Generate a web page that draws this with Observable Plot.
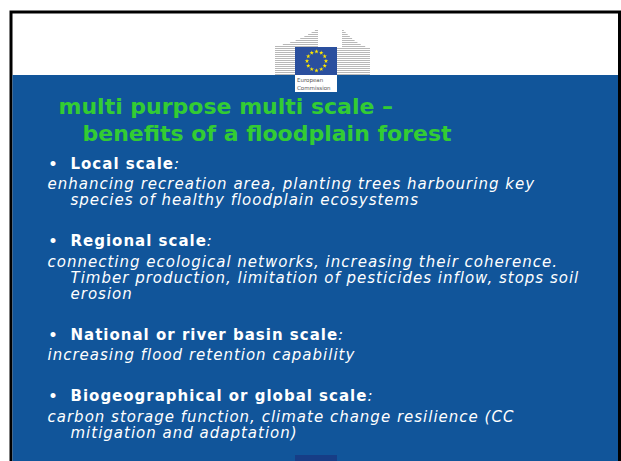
<!DOCTYPE html>
<html>
<head>
<meta charset="utf-8">
<script src="https://cdn.jsdelivr.net/npm/d3@7"></script>
<script src="https://cdn.jsdelivr.net/npm/@observablehq/plot@0.6"></script>
<style>
  html, body { margin: 0; padding: 0; background: #ffffff; }
  #chart { width: 621px; height: 461px; overflow: hidden; }
</style>
</head>
<body>
<div id="chart"></div>
<script>
// ---- content ----
const titleLines = ["multi purpose multi scale –", "benefits of a floodplain forest"];
const headings = ["Local scale", "Regional scale", "National or river basin scale", "Biogeographical or global scale"];
const descriptions = [
  ["enhancing recreation area, planting trees harbouring key", "species of healthy floodplain ecosystems"],
  ["connecting ecological networks, increasing their coherence.", "Timber production, limitation of pesticides inflow, stops soil", "erosion"],
  ["increasing flood retention capability"],
  ["carbon storage function, climate change resilience (CC", "mitigation and adaptation)"]
];
const logoLabel = ["European", "Commission"];

// ---- style / layout ----
const W = 621, H = 461;
const FONT = "DejaVu Sans, Verdana, sans-serif";
const BLUE = "#11559a";
const GREEN = "#33cc33";
const layout = {
  frame: {x1: 11, x2: 619.5, y1: 12, y2: 480},
  band: {x1: 12.5, x2: 618, y1: 75, y2: 480},
  titleX: [58, 82], titleBase0: 113.5, titleStep: 27,
  bulletX: 48, headX: 70, descX0: 47, descX: 70,
  sectionBase0: 168, headToDesc: 20.5, descStep: 16, sectionGap: 41,
  headSize: 15, descSize: 15, titleSize: 22, spacing: 1
};

// measure heading widths for the colon
const ctx = document.createElement("canvas").getContext("2d");
function textWidth(t, font) { ctx.font = font; return ctx.measureText(t).width + t.length * layout.spacing; }

// build rows
const titleRows = titleLines.map((t, i) => ({text: t, x: layout.titleX[i], y: layout.titleBase0 + i * layout.titleStep}));
const headRows = [], colonRows = [], bulletRows = [], descRows = [];
let y = layout.sectionBase0;
headings.forEach((h, s) => {
  headRows.push({text: h, x: layout.headX, y});
  bulletRows.push({text: "•", x: layout.bulletX, y});
  const w = textWidth(h, `bold ${layout.headSize}px ${FONT}`);
  colonRows.push({text: ":", x: layout.headX + w, y, bold: s === 0});
  let dy = y + layout.headToDesc;
  descriptions[s].forEach((d, j) => {
    descRows.push({text: d, x: j === 0 ? layout.descX0 : layout.descX, y: dy});
    if (j < descriptions[s].length - 1) dy += layout.descStep;
  });
  y = dy + layout.sectionGap;
});

// logo geometry (decoration only)
const logo = {sq: {x1: 295, x2: 337, y1: 47, y2: 75}, box: {x1: 295, x2: 337, y1: 75, y2: 92}, cx: 316, cy: 60.5, r: 9.5};
const stars = d3.range(12).map(i => ({x: logo.cx + logo.r * Math.cos(i * Math.PI / 6), y: logo.cy + logo.r * Math.sin(i * Math.PI / 6)}));
const leftWing = d3.range(74, 27, -2).map(yy => ({
  y: yy, x1: yy >= 45 ? 275 : 275 + 43 * Math.pow((45 - yy) / 17, 0.6), x2: yy >= 47 ? 295 : 318
})).filter(d => d.x2 - d.x1 > 0.5);
const rightWing = d3.range(74, 27, -2).map(yy => ({
  y: yy, x1: yy >= 47 ? 337 : 342, x2: yy >= 47 ? 370 : 370 - 28 * Math.pow((47 - yy) / 19, 0.6)
})).filter(d => d.x2 - d.x1 > 0.5);

const textOpts = {x: "x", y: "y", text: "text", textAnchor: "start", lineAnchor: "bottom"};

const chart = Plot.plot({
  width: W, height: H, margin: 0,
  x: {type: "identity"}, y: {type: "identity"},
  style: {background: "#ffffff", fontFamily: FONT},
  marks: [
    Plot.rect([layout.frame], {x1: "x1", x2: "x2", y1: "y1", y2: "y2", fill: "#ffffff", stroke: "#000000", strokeWidth: 3}),
    Plot.rect([layout.band], {x1: "x1", x2: "x2", y1: "y1", y2: "y2", fill: BLUE}),
    // logo
    Plot.ruleY(leftWing, {x1: "x1", x2: "x2", y: "y", stroke: "#b8b8b8", strokeWidth: 1}),
    Plot.ruleY(rightWing, {x1: "x1", x2: "x2", y: "y", stroke: "#b8b8b8", strokeWidth: 1}),
    Plot.rect([logo.sq], {x1: "x1", x2: "x2", y1: "y1", y2: "y2", fill: "#2a4f9e"}),
    Plot.rect([logo.box], {x1: "x1", x2: "x2", y1: "y1", y2: "y2", fill: "#ffffff"}),
    Plot.dot(stars, {x: "x", y: "y", symbol: "star", r: 1.4, fill: "#ffe600"}),
    Plot.text(logoLabel.map((t, i) => ({text: t, x: 296.5, y: 81.5 + i * 8})), {...textOpts, fontSize: 5.5, fill: "#555555"}),
    Plot.rect([{x1: 295, x2: 337, y1: 455, y2: 470}], {x1: "x1", x2: "x2", y1: "y1", y2: "y2", fill: "#173d86"}),
    // title
    Plot.text(titleRows, {...textOpts, ariaDescription: "title", fontSize: layout.titleSize, fontWeight: "bold", fill: GREEN}),
    // bullets and headings
    Plot.text(bulletRows, {...textOpts, ariaDescription: "bullet", fontSize: 14, fontWeight: "bold", fill: "#ffffff"}),
    Plot.text(headRows, {...textOpts, ariaDescription: "heading", fontSize: layout.headSize, fontWeight: "bold", fill: "#ffffff"}),
    Plot.text(colonRows, {...textOpts, ariaDescription: "colon", fontSize: layout.headSize, fontStyle: "italic", fontWeight: d => d.bold ? "bold" : "normal", fill: "#ffffff"}),
    // descriptions
    Plot.text(descRows, {...textOpts, ariaDescription: "description", fontSize: layout.descSize, fontStyle: "italic", fill: "#ffffff"})
  ]
});
// widen the DejaVu glyph runs toward the reference's Verdana-like set width
chart.querySelectorAll('g[aria-description="heading"], g[aria-description="description"]').forEach(g => {
  g.setAttribute("letter-spacing", layout.spacing);
  g.style.letterSpacing = layout.spacing + "px";
});
// express each text's translate() as plain x/y attributes (same rendered position)
chart.querySelectorAll("text").forEach(t => {
  const tr = t.getAttribute("transform");
  const m = tr && tr.match(/^translate\(\s*([-\d.e]+)[,\s]+([-\d.e]+)\s*\)$/);
  if (!m) return;
  const oldY = t.getAttribute("y");
  const oldX = t.getAttribute("x");
  t.removeAttribute("transform");
  if (oldY) t.setAttribute("dy", oldY);
  if (oldX) t.setAttribute("dx", oldX);
  t.setAttribute("x", m[1]);
  t.setAttribute("y", m[2]);
});
document.getElementById("chart").appendChild(chart);
</script>
</body>
</html>
